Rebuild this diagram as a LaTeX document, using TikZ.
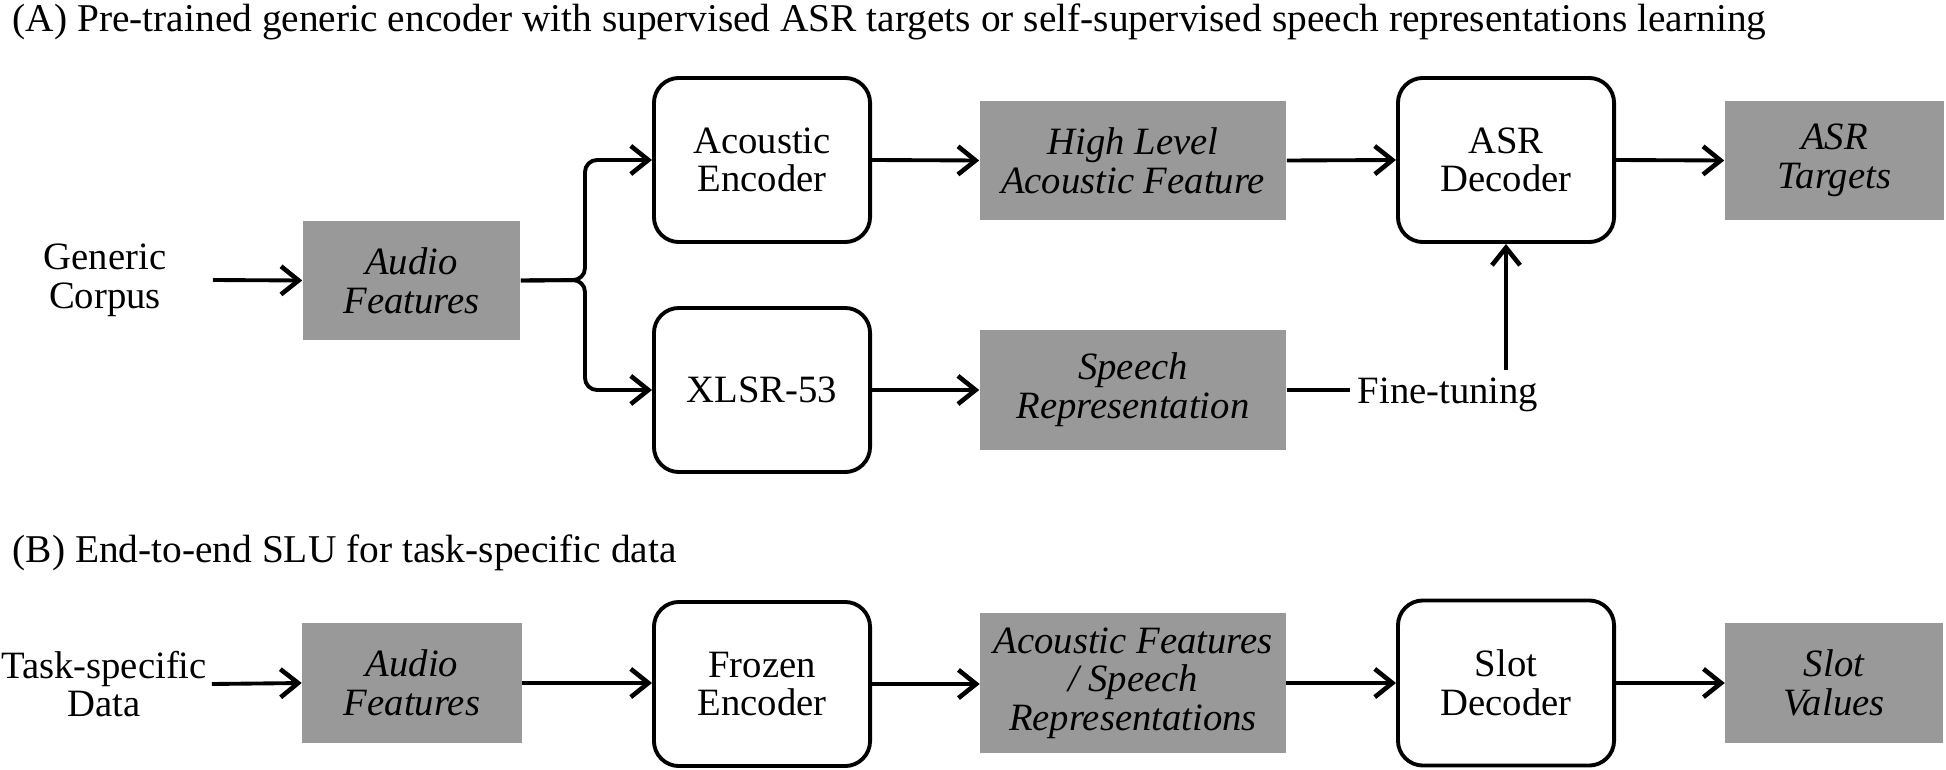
\documentclass[tikz,border=0pt]{standalone}
\usepackage{fontspec}
\setmainfont{Liberation Serif}[ItalicFont={Liberation Serif Italic}]
\usetikzlibrary{arrows.meta}
\definecolor{boxgray}{RGB}{153,153,153}
\begin{document}
\begin{tikzpicture}[x=0.01cm,y=-0.01cm,
  font=\fontsize{11}{11}\selectfont,
  rbox/.style={draw, line width=1.1pt, rounded corners=0.25cm, minimum width=2.16cm, minimum height=1.64cm, align=center, inner sep=0pt},
  gbox/.style={fill=boxgray, minimum height=1.19cm, align=center, font=\fontsize{11}{11}\selectfont\itshape, inner sep=0pt},
  arr/.style={line width=1.1pt, -{Straight Barb[length=5pt,width=8pt,line width=1.3pt]}},
  lbl/.style={align=center, inner sep=0pt, minimum width=2.14cm},
  ttl/.style={anchor=base west, inner sep=0pt, font=\fontsize{11.2}{12}\selectfont}]
\useasboundingbox (0,0) rectangle (1946,770);

% ---- Part A ----
\node[ttl] (ta) at (12,32) {(A) Pre-trained generic encoder with supervised ASR targets or self-supervised speech representations learning};
\node[lbl] (gc) at (105,280) {Generic\\Corpus};
\node[gbox, minimum width=2.17cm] (af1) at (411.5,280.5) {Audio\\Features};
\coordinate (fork) at (585,280);
\node[rbox] (ae) at (762,160) {Acoustic\\Encoder};
\node[rbox] (xl) at (762,390) {XLSR-53};
\node[gbox, minimum width=3.06cm] (hl) at (1133,160.5) {High Level\\Acoustic Feature};
\node[gbox, minimum width=3.06cm] (sr) at (1133,390) {Speech\\Representation};
\node[rbox] (ad) at (1506,160) {ASR\\Decoder};
\node[gbox, minimum width=2.19cm] (at) at (1834.5,160.5) {ASR\\Targets};
\node[anchor=base west, inner sep=2pt] (ft) at (1350,403) {Fine-tuning};

\draw[arr] (gc.east) -- (af1.west);
\draw[arr, rounded corners=0.12cm] (af1.east) -- (fork) |- (ae.west);
\draw[arr, rounded corners=0.12cm] (af1.east) -- (fork) |- (xl.west);
\draw[arr] (ae.east) -- (hl.west);
\draw[arr] (xl.east) -- (sr.west);
\draw[arr] (hl.east) -- (ad.west);
\draw[arr] (ad.east) -- (at.west);
\draw[line width=1.1pt] (sr.east) -- (sr.east -| ft.west);
\draw[arr] (ad.south |- ft.north) -- (ad.south);

% ---- Part B ----
\node[ttl] (tb) at (12,562) {(B) End-to-end SLU for task-specific data};
\node[lbl] (td) at (104,684) {Task-specific\\Data};
\node[gbox, minimum width=2.19cm] (af2) at (412,683) {Audio\\Features};
\node[rbox] (fe) at (762,684) {Frozen\\Encoder};
\node[gbox, minimum width=3.05cm, minimum height=1.4cm] (afsr) at (1133,683) {Acoustic Features\\/ Speech\\Representations};
\node[rbox, minimum height=1.65cm] (sd) at (1506,683) {Slot\\Decoder};
\node[gbox, minimum width=2.17cm] (sv) at (1834,683) {Slot\\Values};

\draw[arr] (td.east) -- (af2.west);
\draw[arr] (af2.east) -- (af2.east -| fe.west);
\draw[arr] (fe.east) -- (fe.east -| afsr.west);
\draw[arr] (afsr.east) -- (afsr.east -| sd.west);
\draw[arr] (sd.east) -- (sd.east -| sv.west);
\end{tikzpicture}
\end{document}
